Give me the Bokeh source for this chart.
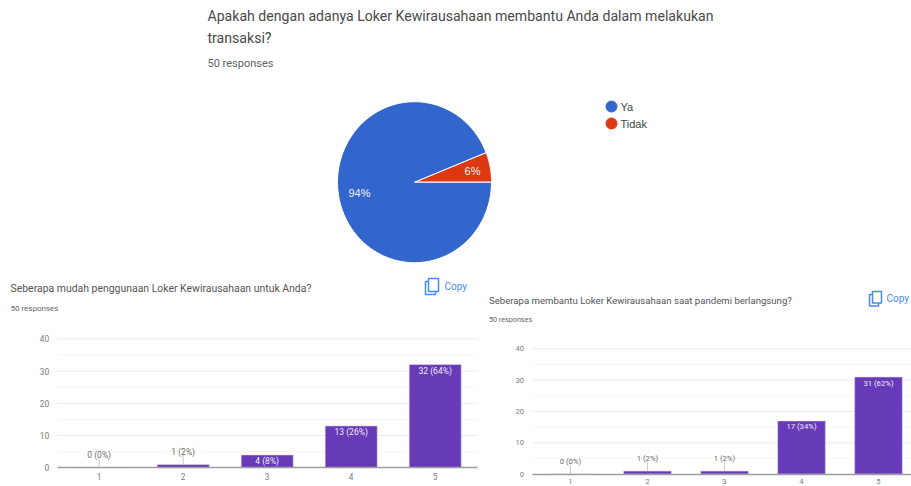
import numpy as np
from bokeh.plotting import figure
from bokeh.layouts import column, row
from bokeh.embed import file_html
from bokeh.resources import INLINE
from bokeh.core.properties import value
from bokeh.models import Range1d, FixedTicker

pie_labels = ["Ya", "Tidak"]
pie_shares = [94, 6]
pie_colors = ["#3366cc", "#dc3912"]
pie_text = ["94%", "6%"]
top_title = ["Apakah dengan adanya Loker Kewirausahaan membantu Anda dalam melakukan", "transaksi?"]
responses = "50 responses"

categories = [1, 2, 3, 4, 5]
y_ticks = [0, 10, 20, 30, 40]
y_minor = [5, 15, 25, 35]
left_title = "Seberapa mudah penggunaan Loker Kewirausahaan untuk Anda?"
left_values = [0, 1, 4, 13, 32]
left_text = ["0 (0%)", "1 (2%)", "4 (8%)", "13 (26%)", "32 (64%)"]
right_title = "Seberapa membantu Loker Kewirausahaan saat pandemi berlangsung?"
right_values = [0, 1, 1, 17, 31]
right_text = ["0 (0%)", "1 (2%)", "1 (2%)", "17 (34%)", "31 (62%)"]

FONT = "Roboto"
BLUE = "#4a8af4"
PURPLE = "#673ab7"

# ---------- top panel: coordinates are the pixels of the page ----------
top = figure(width=911, height=270, x_range=Range1d(0, 911), y_range=Range1d(270, 0),
             output_backend="svg", toolbar_location=None, min_border=0)
top.axis.visible = False
top.grid.visible = False
top.outline_line_color = None

cx, cy, rx, ry = 414.0, 181.7, 77.0, 80.5
start = 0.0
for share, color in zip(pie_shares[::-1], pie_colors[::-1]):
    a = np.radians(np.linspace(start, start + share * 3.6, 120))
    xs = np.r_[cx, cx + rx * np.cos(a)]
    ys = np.r_[cy, cy - ry * np.sin(a)]
    top.patch(xs, ys, fill_color=color, line_color="white", line_width=1)
    start += share * 3.6

top.text([359, 472], [192, 170], text=pie_text, text_color="#f1f1f1", text_font=value("Liberation Sans"),
         text_font_size="11px", text_align="center", text_baseline="middle")
top.text([207, 207], [15.5, 37], text=top_title, text_color="#4a4a4a", text_font=value(FONT),
         text_font_size="14.1px", text_baseline="middle")
top.text([207], [62.5], text=[responses], text_color="#5f6368", text_font=value(FONT),
         text_font_size="11px", text_baseline="middle")
top.scatter([611, 611], [106, 123], marker="circle", size=11, color=pie_colors)
top.text([620, 620], [106, 123], text=pie_labels, text_color="#444444", text_font=value("Liberation Sans"),
         text_font_size="11px", text_baseline="middle")


def panel(values, texts, title, x0, width, frame_left, frame_top, frame_bottom, spacing, tick_px, bar_px,
          title_x, title_y, title_px, resp_y, resp_px, copy_x, copy_y, icon):
    y0 = 270
    unit = (frame_bottom - frame_top) / 40
    xr = Range1d(0.5 - (frame_left - x0) / spacing, 0.5 + (x0 + width - frame_left) / spacing)
    yr = Range1d(-(486 - frame_bottom) / unit, 40 + (frame_top - y0) / unit)
    p = figure(width=width, height=486 - y0, output_backend="svg", toolbar_location=None,
               x_range=xr, y_range=yr, min_border=0)
    p.extra_x_ranges = {"px": Range1d(x0, x0 + width)}
    p.extra_y_ranges = {"py": Range1d(486, y0)}
    p.outline_line_color = None
    p.grid.visible = False

    p.xaxis.fixed_location = 0
    p.yaxis.fixed_location = 0.5
    p.xaxis.bounds = (0.5, 5.5)
    p.yaxis.bounds = (0, 40)
    p.xaxis.ticker = FixedTicker(ticks=categories)
    p.yaxis.ticker = FixedTicker(ticks=y_ticks)
    p.axis.major_tick_line_color = None
    p.axis.minor_tick_line_color = None
    p.axis.major_tick_out = 0
    p.axis.major_tick_in = 0
    p.yaxis.axis_line_color = None
    p.xaxis.axis_line_color = "#9e9e9e"
    p.xaxis.axis_line_width = 1.5
    p.axis.major_label_text_color = "#7a7a7a"
    p.axis.major_label_text_font = FONT
    p.axis.major_label_text_font_size = f"{tick_px}px"
    p.yaxis.major_label_standoff = 8
    p.xaxis.major_label_standoff = 5

    n_major, n_minor = len(y_ticks) - 1, len(y_minor)
    p.segment([0.5] * n_minor, y_minor, [5.5] * n_minor, y_minor, line_color="#f5f5f5", line_width=1)
    p.segment([0.5] * n_major, y_ticks[1:], [5.5] * n_major, y_ticks[1:], line_color="#ebebeb", line_width=1)

    p.vbar(x=categories, top=values, width=0.62, fill_color=PURPLE, line_color="#e2daf3", line_width=0.6)

    small = [i for i, v in enumerate(values) if v < 3]
    big = [i for i, v in enumerate(values) if v >= 3]
    p.segment([categories[i] for i in small], [values[i] for i in small],
              [categories[i] for i in small], [values[i] + 3 for i in small],
              line_color="#cccccc", line_width=1)
    p.text([categories[i] for i in small], [values[i] for i in small], text=[texts[i] for i in small],
           text_color="#6b6b6b", text_font=value(FONT), text_font_size=f"{bar_px}px",
           text_align="center", text_baseline="middle", y_offset=-13)
    p.text([categories[i] for i in big], [values[i] for i in big], text=[texts[i] for i in big],
           text_color="#f0ecf8", text_font=value(FONT), text_font_size=f"{bar_px}px",
           text_align="center", text_baseline="middle", y_offset=6)

    px = dict(x_range_name="px", y_range_name="py")
    p.text([title_x], [title_y], text=[title], text_color="#555555", text_font=value(FONT),
           text_font_size=f"{title_px}px", text_baseline="middle", **px)
    p.text([title_x], [resp_y], text=[responses], text_color="#666666", text_font=value(FONT),
           text_font_size=f"{resp_px}px", text_baseline="middle", **px)
    p.text([copy_x], [copy_y], text=["Copy"], text_color=BLUE, text_font=value(FONT),
           text_font_size="10px", text_baseline="middle", **px)
    il, ir, it, ib = icon
    for l, r, t, b in [(il, ir - 3, it + 3, ib), (il + 3, ir, it, ib - 3)]:
        p.quad(left=[l], right=[r], top=[t], bottom=[b], fill_color="white", line_color=BLUE, line_width=1.5, **px)
    return p


left = panel(left_values, left_text, left_title, 0, 485, 56.7, 338.3, 467.3, 84.0, 8.3, 8.5,
             10, 288, 10.45, 308, 8, 444, 286, (425, 438, 278, 294))
right = panel(right_values, right_text, right_title, 485, 426, 531.5, 348.3, 473.7, 77.0, 7.6, 7.7,
              488.5, 299.5, 9.6, 318.5, 7.2, 886, 297.5, (869, 881, 291, 305.5))

page = column(top, row(left, right, spacing=0), spacing=0)
open("out.html", "w").write(file_html(page, INLINE))
